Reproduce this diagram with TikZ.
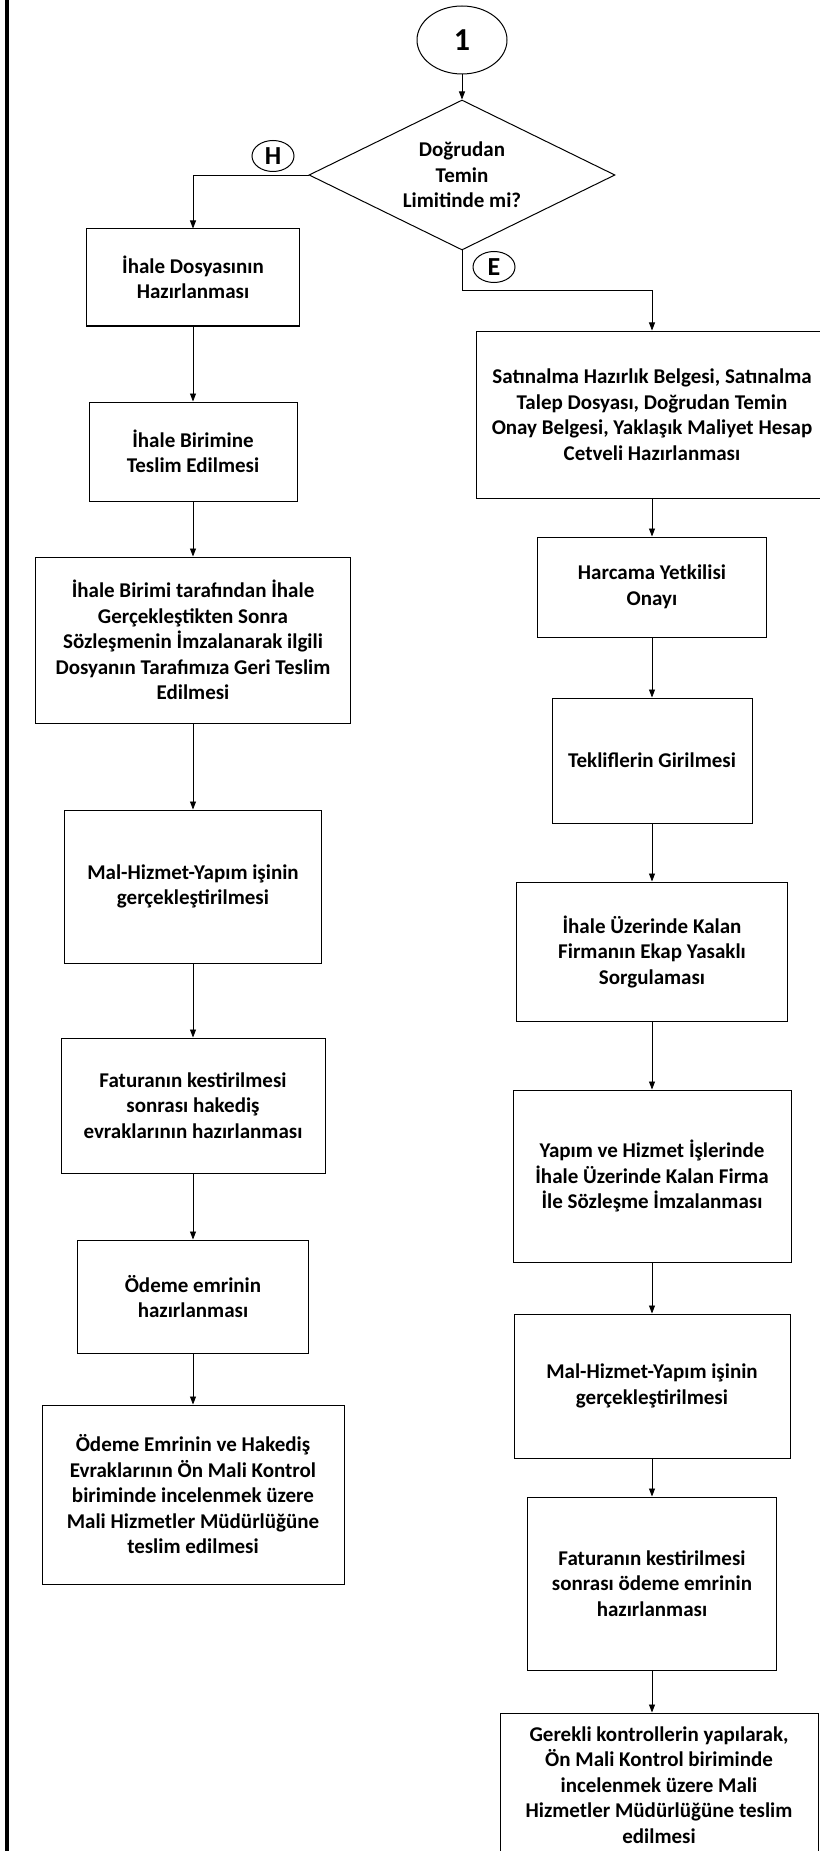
\documentclass[tikz,border=0pt]{standalone}
\usepackage{fontspec}
\setmainfont{Carlito}
\usepackage{tikz}
\usetikzlibrary{arrows.meta,shapes.geometric}

\newcommand{\stepfont}{\fontsize{21}{25.5}\selectfont\bfseries}
\newcommand{\markfont}{\fontsize{26}{26}\selectfont\bfseries}

\begin{document}
\begin{tikzpicture}[x=1pt, y=-1pt,
	stepbox/.style={draw, rectangle, line width=1pt, align=center, inner sep=0pt, font=\stepfont},
	flow/.style={-{Triangle[length=8pt,width=6pt]}, line width=0.8pt},
	tag/.style={draw, ellipse, line width=1pt, inner sep=0pt, minimum width=42pt, minimum height=31pt, font=\markfont}]

% parameters %{{{2

	\def\leftx{193}
	\def\rightx{652}

	\useasboundingbox (0,0) rectangle (819,1851);

% frame %{{{2

	\draw[line width=4pt] (7,0) -- (7,1851);

% start and decision %{{{2

	\node[draw, ellipse, line width=1pt, inner sep=0pt, minimum width=90pt, minimum height=68pt,
		font=\fontsize{32}{32}\selectfont\bfseries] (start) at (462,40) {1};

	\node[draw, diamond, aspect=2, line width=1pt, inner sep=0pt, minimum width=306pt,
		minimum height=150pt, align=center, font=\stepfont] (dec) at (462,175)
		{Doğrudan\\Temin\\Limitinde mi?};

	\node[tag] (H) at (273,156) {H};
	\node[tag] (E) at (494,267) {E};

	\coordinate (ebend) at (462,290);

% left column %{{{2

	\node[stepbox, minimum width=213pt, minimum height=97pt] (L1) at (\leftx,277.5)
		{İhale Dosyasının\\Hazırlanması};
	\node[stepbox, minimum width=208pt, minimum height=99pt] (L2) at (\leftx,451.5)
		{İhale Birimine\\Teslim Edilmesi};
	\node[stepbox, minimum width=315pt, minimum height=166pt] (L3) at (\leftx,640)
		{İhale Birimi tarafından İhale\\Gerçekleştikten Sonra\\Sözleşmenin İmzalanarak ilgili\\Dosyanın Tarafımıza Geri Teslim\\Edilmesi};
	\node[stepbox, minimum width=257pt, minimum height=153pt] (L4) at (\leftx,886.5)
		{Mal-Hizmet-Yapım işinin\\gerçekleştirilmesi};
	\node[stepbox, minimum width=264pt, minimum height=135pt] (L5) at (\leftx,1105.5)
		{Faturanın kestirilmesi\\sonrası hakediş\\evraklarının hazırlanması};
	\node[stepbox, minimum width=231pt, minimum height=113pt] (L6) at (\leftx,1296.5)
		{Ödeme emrinin\\hazırlanması};
	\node[stepbox, minimum width=302pt, minimum height=179pt] (L7) at (\leftx,1494.5)
		{Ödeme Emrinin ve Hakediş\\Evraklarının Ön Mali Kontrol\\biriminde incelenmek üzere\\Mali Hizmetler Müdürlüğüne\\teslim edilmesi};

% right column %{{{2

	\node[stepbox, minimum width=352pt, minimum height=167pt] (R1) at (\rightx,414.5)
		{Satınalma Hazırlık Belgesi, Satınalma\\Talep Dosyası, Doğrudan Temin\\Onay Belgesi, Yaklaşık Maliyet Hesap\\Cetveli Hazırlanması};
	\node[stepbox, minimum width=229pt, minimum height=100pt] (R2) at (\rightx,587)
		{Harcama Yetkilisi\\Onayı};
	\node[stepbox, minimum width=200pt, minimum height=125pt] (R3) at (\rightx,760.5)
		{Tekliflerin Girilmesi};
	\node[stepbox, minimum width=271pt, minimum height=139pt] (R4) at (\rightx,951.5)
		{İhale Üzerinde Kalan\\Firmanın Ekap Yasaklı\\Sorgulaması};
	\node[stepbox, minimum width=278pt, minimum height=172pt] (R5) at (\rightx,1176)
		{Yapım ve Hizmet İşlerinde\\İhale Üzerinde Kalan Firma\\İle Sözleşme İmzalanması};
	\node[stepbox, minimum width=276pt, minimum height=144pt] (R6) at (\rightx,1386)
		{Mal-Hizmet-Yapım işinin\\gerçekleştirilmesi};
	\node[stepbox, minimum width=249pt, minimum height=173pt] (R7) at (\rightx,1583.5)
		{Faturanın kestirilmesi\\sonrası ödeme emrinin\\hazırlanması};
	\node[stepbox, minimum width=318pt, minimum height=144pt] (R8) at (659,1785)
		{Gerekli kontrollerin yapılarak,\\Ön Mali Kontrol biriminde\\incelenmek üzere Mali\\Hizmetler Müdürlüğüne teslim\\edilmesi};

% connectors %{{{2

	\draw[flow] (start) -- (dec);

	\draw[flow] (dec.west) -| (L1.north);
	\draw[flow] (dec.south) -- (ebend) -| (R1.north);

	\foreach \a/\b in {L1/L2, L2/L3, L3/L4, L4/L5, L5/L6, L6/L7} {
		\draw[flow] (\a) -- (\b);
	}

	\foreach \a/\b in {R1/R2, R2/R3, R3/R4, R4/R5, R5/R6, R6/R7} {
		\draw[flow] (\a) -- (\b);
	}

	\draw[flow] (R7.south) -- (R7.south |- R8.north);

% closing %{{{2

\end{tikzpicture}
\end{document}
